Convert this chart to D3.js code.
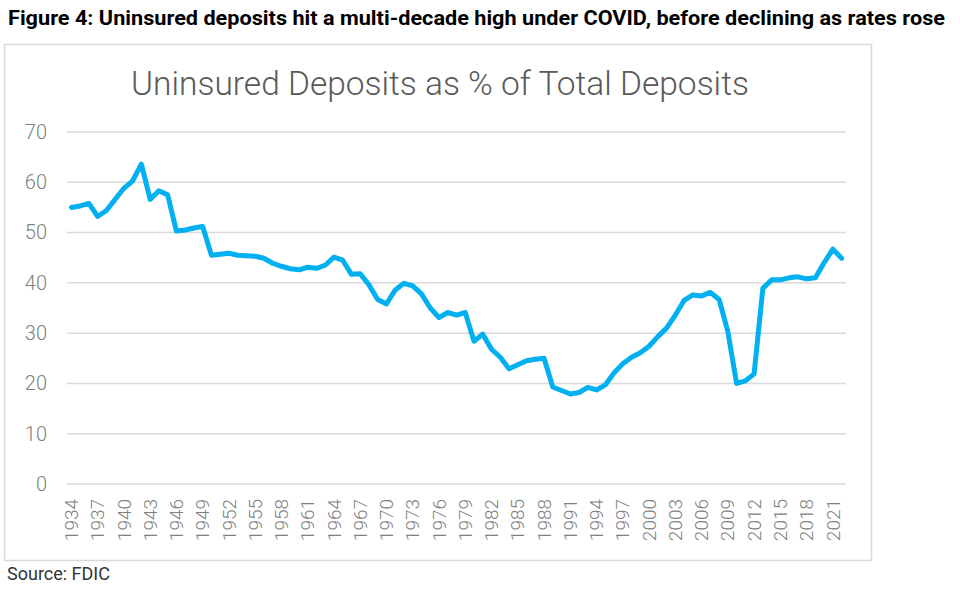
<!DOCTYPE html>
<html>
<head>
<meta charset="utf-8">
<script src="https://cdn.jsdelivr.net/npm/d3@7"></script>
<style>
  html, body { margin: 0; padding: 0; background: #fff; }
  svg { display: block; }
</style>
</head>
<body>
<svg id="chart" width="960" height="593"></svg>
<script>
const years = d3.range(1934, 2023);
const values = [
  55.0, 55.3, 55.8, 53.2, 54.4, 56.6, 58.8, 60.3, 63.6, 56.6,
  58.3, 57.5, 50.3, 50.5, 50.9, 51.2, 45.5, 45.7, 45.9, 45.5,
  45.4, 45.3, 44.9, 43.9, 43.3, 42.8, 42.6, 43.1, 42.9, 43.5,
  45.1, 44.5, 41.7, 41.8, 39.6, 36.7, 35.8, 38.6, 39.9, 39.4,
  37.8, 35.0, 33.1, 34.1, 33.6, 34.1, 28.4, 29.8, 26.8, 25.2,
  22.9, 23.7, 24.5, 24.8, 25.0, 19.3, 18.6, 17.9, 18.2, 19.2,
  18.7, 19.7, 22.1, 23.9, 25.2, 26.1, 27.4, 29.3, 31.0, 33.6,
  36.5, 37.6, 37.4, 38.1, 36.7, 30.3, 20.0, 20.5, 21.9, 38.9,
  40.6, 40.6, 41.0, 41.2, 40.8, 41.0, 44.0, 46.7, 44.9
];
const yTicks = [0, 10, 20, 30, 40, 50, 60, 70];
const xTickLabels = years.filter((y, i) => i % 3 === 0);
const figureTitle = "Figure 4: Uninsured deposits hit a multi-decade high under COVID, before declining as rates rose";
const chartTitle = "Uninsured Deposits as % of Total Deposits";
const sourceText = "Source: FDIC";

const svg = d3.select("#chart");

// figure title
svg.append("text")
  .attr("x", 8).attr("y", 25)
  .attr("font-family", "Roboto, sans-serif")
  .attr("font-weight", 700)
  .attr("font-size", 21)
  .attr("fill", "#000")
  .attr("textLength", 937)
  .attr("lengthAdjust", "spacingAndGlyphs")
  .text(figureTitle);

// frame
svg.append("rect")
  .attr("x", 4.5).attr("y", 44.5)
  .attr("width", 867).attr("height", 516)
  .attr("fill", "none")
  .attr("stroke", "#d9d9d9")
  .attr("stroke-width", 1.5);

// chart title
svg.append("text")
  .attr("x", 440).attr("y", 95)
  .attr("text-anchor", "middle")
  .attr("font-family", "Roboto, sans-serif")
  .attr("font-weight", 300)
  .attr("font-size", 33.5)
  .attr("fill", "#595959")
  .text(chartTitle);

const x = d3.scaleBand().domain(years).range([67, 846]);
const y = d3.scaleLinear().domain([0, 70]).range([484, 132]);

// y axis labels
const yAxis = d3.axisLeft(y).tickValues(yTicks).tickSize(0).tickPadding(0);
const gy = svg.append("g").attr("transform", "translate(47,0)").call(yAxis);
gy.select(".domain").remove();
gy.selectAll("text")
  .attr("font-family", "Roboto, sans-serif")
  .attr("font-weight", 300)
  .attr("font-size", 20)
  .attr("fill", "#808080");

// gridlines
svg.append("g").selectAll("line").data(yTicks).join("line")
  .attr("x1", 67).attr("x2", 846)
  .attr("y1", d => y(d)).attr("y2", d => y(d))
  .attr("stroke", "#d9d9d9")
  .attr("stroke-width", 1.5);

// x axis labels
const xAxis = d3.axisBottom(x).tickValues(xTickLabels).tickSize(0).tickPadding(0);
const gx = svg.append("g").attr("transform", "translate(0,484)").call(xAxis);
gx.select(".domain").remove();
gx.selectAll("text")
  .attr("font-family", "Roboto, sans-serif")
  .attr("font-weight", 300)
  .attr("font-size", 19)
  .attr("fill", "#808080")
  .attr("transform", "rotate(-90)")
  .attr("text-anchor", "end")
  .attr("x", -15)
  .attr("y", 0)
  .attr("dy", "0.35em");

// line
const line = d3.line()
  .x((d, i) => x(years[i]) + x.bandwidth() / 2)
  .y(d => y(d));
svg.append("path")
  .datum(values)
  .attr("d", line)
  .attr("fill", "none")
  .attr("stroke", "#00b0f0")
  .attr("stroke-width", 5)
  .attr("stroke-linejoin", "round")
  .attr("stroke-linecap", "round");

// source
svg.append("text")
  .attr("x", 7).attr("y", 580)
  .attr("font-family", "Roboto, sans-serif")
  .attr("font-size", 18)
  .attr("fill", "#333")
  .text(sourceText);
</script>
</body>
</html>
